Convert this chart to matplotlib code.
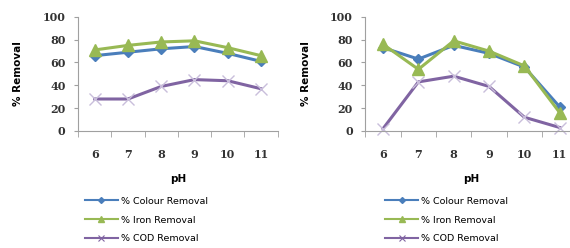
import numpy as np
import matplotlib
matplotlib.use('Agg')
import matplotlib.pyplot as plt
from matplotlib.lines import Line2D

ph = [6, 7, 8, 9, 10, 11]
ph_labels = ['6', '7', '8', '9', '10', '11']

left_colour = [66, 69, 72, 74, 68, 61]
left_iron = [71, 75, 78, 79, 73, 66]
left_cod = [28, 28, 39, 45, 44, 37]

right_colour = [73, 63, 75, 68, 56, 21]
right_iron = [76, 54, 79, 70, 57, 16]
right_cod = [2, 43, 48, 39, 12, 3]

series_names = ['% Colour Removal', '% Iron Removal', '% COD Removal']
c_blue = '#4a7ebb'
c_green = '#98b954'
c_purple = '#8064a2'

fig = plt.figure(figsize=(5.7, 2.48), dpi=100)

def make_panel(rect, colour, iron, cod, leg_x):
    ax = fig.add_axes(rect)
    x = np.arange(len(ph))
    ax.plot(x, cod, color=c_purple, lw=2.2, marker='x', ms=9, mew=1.0,
            mec='#c9bedb', clip_on=False)
    ax.plot(x, colour, color=c_blue, lw=2.2, marker='D', ms=5, clip_on=False)
    ax.plot(x, iron, color=c_green, lw=2.2, marker='^', ms=9, clip_on=False)
    ax.set_xlim(-0.5, 5.5)
    ax.set_ylim(0, 100)
    ax.set_yticks([0, 20, 40, 60, 80, 100])
    ax.set_xticks(x)
    ax.set_xticklabels(ph_labels)
    ax.set_xticks(np.arange(-0.5, 6, 1), minor=True)
    ax.tick_params(axis='x', which='major', length=0, pad=13)
    ax.tick_params(axis='x', which='minor', length=4, color='#a0a0a0')
    ax.tick_params(axis='y', length=3, color='#a0a0a0', pad=6)
    for lab in ax.get_xticklabels() + ax.get_yticklabels():
        lab.set_family('DejaVu Serif')
        lab.set_fontweight('bold')
        lab.set_fontsize(8)
        lab.set_color('#333333')
    for s in ['top', 'right']:
        ax.spines[s].set_visible(False)
    for s in ['left', 'bottom']:
        ax.spines[s].set_color('#a0a0a0')
    ax.set_ylabel('% Removal', fontsize=7.5, fontweight='bold', labelpad=14)
    ax.set_xlabel('pH', fontsize=7.5, fontweight='bold', labelpad=10)
    handles = [
        Line2D([], [], color=c_blue, lw=1.5, marker='D', ms=3),
        Line2D([], [], color=c_green, lw=1.5, marker='^', ms=5),
        Line2D([], [], color=c_purple, lw=1.5, marker='x', ms=5, mew=0.8),
    ]
    fig.legend(handles, series_names, loc='upper left',
               bbox_to_anchor=(leg_x, 0.207), frameon=False, fontsize=6.8,
               handlelength=3.5, handletextpad=0.3, labelspacing=1.05,
               borderaxespad=0, borderpad=0)
    return ax

make_panel([0.137, 0.472, 0.35, 0.46], left_colour, left_iron, left_cod, 0.149)
make_panel([0.641, 0.472, 0.372, 0.46], right_colour, right_iron, right_cod, 0.676)

fig.savefig('out.png', dpi=100)
